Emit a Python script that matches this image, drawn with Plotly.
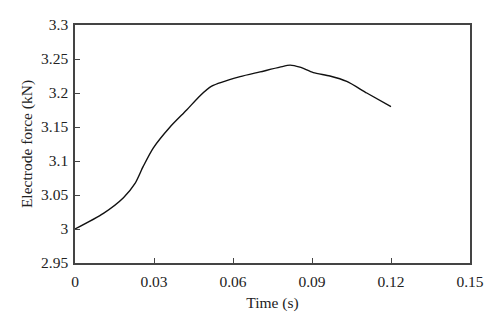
import plotly.graph_objects as go

# Electrode force over the welding time
time_s = [0.0, 0.0108, 0.0184, 0.0228, 0.0259, 0.0297, 0.0361, 0.0424, 0.0475,
          0.0519, 0.0627, 0.0703, 0.0778, 0.0817, 0.0854, 0.0905, 0.0968, 0.1032,
          0.1108, 0.12]
force_kn = [3.0, 3.023, 3.046, 3.067, 3.092, 3.119, 3.150, 3.175, 3.196,
            3.210, 3.224, 3.231, 3.238, 3.241, 3.238, 3.230, 3.225, 3.217,
            3.200, 3.180]

x_ticks = [0, 0.03, 0.06, 0.09, 0.12, 0.15]
x_tick_text = ["0", "0.03", "0.06", "0.09", "0.12", "0.15"]
y_ticks = [2.95, 3.0, 3.05, 3.1, 3.15, 3.2, 3.25, 3.3]
y_tick_text = ["2.95", "3", "3.05", "3.1", "3.15", "3.2", "3.25", "3.3"]

fig = go.Figure(
    go.Scatter(
        x=time_s, y=force_kn, mode="lines",
        line=dict(color="#111111", width=1.4, shape="spline", smoothing=0.7),
        showlegend=False,
    )
)

font = dict(family="Liberation Serif, Times New Roman, serif", size=15.5, color="#222222")
axis_common = dict(
    showgrid=False, zeroline=False, showline=True, linecolor="#444444", linewidth=1.5,
    mirror=True, ticks="inside", ticklen=5, tickwidth=1.2, tickcolor="#444444",
    tickfont=font,
)

fig.update_layout(
    width=500, height=330,
    margin=dict(l=75, r=30, t=25, b=67),
    paper_bgcolor="white", plot_bgcolor="white",
    font=font,
    xaxis=dict(range=[0, 0.15], tickvals=x_ticks, ticktext=x_tick_text, ticklabelstandoff=4,
               title=dict(text="Time (s)", font=font, standoff=8), **axis_common),
    yaxis=dict(range=[2.95, 3.3], tickvals=y_ticks, ticktext=y_tick_text, ticklabelstandoff=2,
               title=dict(text="Electrode force (kN)", font=font, standoff=5), **axis_common),
)

fig.write_html("out.html")
